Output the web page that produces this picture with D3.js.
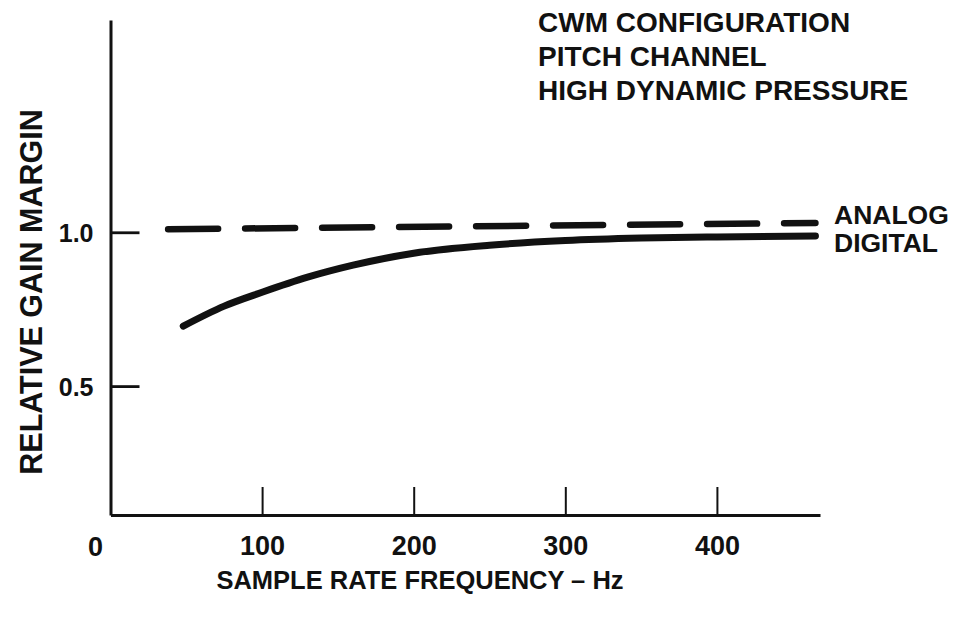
<!DOCTYPE html>
<html>
<head>
<meta charset="utf-8">
<script src="https://cdn.jsdelivr.net/npm/d3@7"></script>
<style>
	body { margin:0; background:#fff; }
	text { font-family:"Liberation Sans", Arial, sans-serif; font-weight:bold; fill:#111; }
</style>
</head>
<body>
<div id="chart"></div>
<script>
"use strict"

var width = 961,
	height = 617;

// values (frequency in Hz, relative gain margin)
var digital_f = [48, 75, 100, 130, 160, 200, 250, 300, 350, 400, 465];
var digital_g = [0.695, 0.760, 0.805, 0.854, 0.893, 0.932, 0.958, 0.973, 0.981, 0.985, 0.988];
var analog_f = [38, 465];
var analog_g = [1.01, 1.03];

var x_ticks = [100, 200, 300, 400];
var y_ticks = [0.5, 1.0];
var title_lines = ["CWM CONFIGURATION", "PITCH CHANNEL", "HIGH DYNAMIC PRESSURE"];
var series_labels = ["ANALOG", "DIGITAL"];

var svg = d3.select("#chart").append("svg")
	.attr("width", width)
	.attr("height", height);

var xscale = d3.scaleLinear()
	.domain([0, 468])
	.range([110.5, 820]);

// the drawn base line sits a little above zero on the original
var yscale = d3.scaleLinear()
	.domain([0.081, 1.69])
	.range([515, 20]);

// axes
var xaxis = d3.axisBottom(xscale)
	.tickValues(x_ticks)
	.tickFormat(d3.format("d"))
	.tickSizeInner(-28)
	.tickSizeOuter(0)
	.tickPadding(21);

var gx = svg.append("g")
	.attr("transform", "translate(0," + yscale.range()[0] + ")")
	.call(xaxis);

var yaxis = d3.axisLeft(yscale)
	.tickValues(y_ticks)
	.tickFormat(d3.format(".1f"))
	.tickSizeInner(-29)
	.tickSizeOuter(0)
	.tickPadding(17);

var gy = svg.append("g")
	.attr("transform", "translate(" + xscale(0) + ",0)")
	.call(yaxis);

[gx, gy].forEach(function(g) {
	g.select(".domain").attr("stroke", "#111").attr("stroke-width", 3);
	g.selectAll("text").attr("fill", "#111");
});
gx.selectAll("text").style("font-size", "27px");
gy.selectAll("text").style("font-size", "25px").attr("dy", "0.36em");
gx.selectAll(".tick line").attr("stroke", "#111").attr("stroke-width", 2);
gy.selectAll(".tick line").attr("stroke", "#111").attr("stroke-width", 2.8);

// origin label sits left of the corner
svg.append("text")
	.attr("x", xscale(0) - 15)
	.attr("y", yscale.range()[0] + 41)
	.attr("text-anchor", "middle")
	.style("font-size", "27px")
	.text("0");

// axis titles
svg.append("text")
	.attr("x", 420)
	.attr("y", 589)
	.attr("text-anchor", "middle")
	.style("font-size", "25.5px")
	.text("SAMPLE RATE FREQUENCY \u2013 Hz");

svg.append("text")
	.attr("transform", "translate(42,292) rotate(-90)")
	.attr("text-anchor", "middle")
	.style("font-size", "30.5px")
	.text("RELATIVE GAIN MARGIN");

// curves
var line = d3.line()
	.x(function(d) { return xscale(d[0]); })
	.y(function(d) { return yscale(d[1]); })
	.curve(d3.curveMonotoneX);

svg.append("path")
	.datum(d3.zip(analog_f, analog_g))
	.attr("d", line)
	.attr("fill", "none")
	.attr("stroke", "#111")
	.attr("stroke-width", 6.5)
	.attr("stroke-dasharray", "50,27")
	.attr("stroke-linecap", "round");

svg.append("path")
	.datum(d3.zip(digital_f, digital_g))
	.attr("d", line)
	.attr("fill", "none")
	.attr("stroke", "#111")
	.attr("stroke-width", 7)
	.attr("stroke-linecap", "round");

// series labels at right end of the curves
svg.selectAll(".slabel").data(series_labels)
	.enter().append("text")
	.attr("class", "slabel")
	.attr("x", 834)
	.attr("y", function(d, i) { return 224 + i * 28; })
	.style("font-size", "26.5px")
	.text(function(d) { return d; });

// configuration note
svg.selectAll(".title").data(title_lines)
	.enter().append("text")
	.attr("class", "title")
	.attr("x", 538)
	.attr("y", function(d, i) { return 32 + i * 34; })
	.style("font-size", "28px")
	.text(function(d) { return d; });
</script>
</body>
</html>
